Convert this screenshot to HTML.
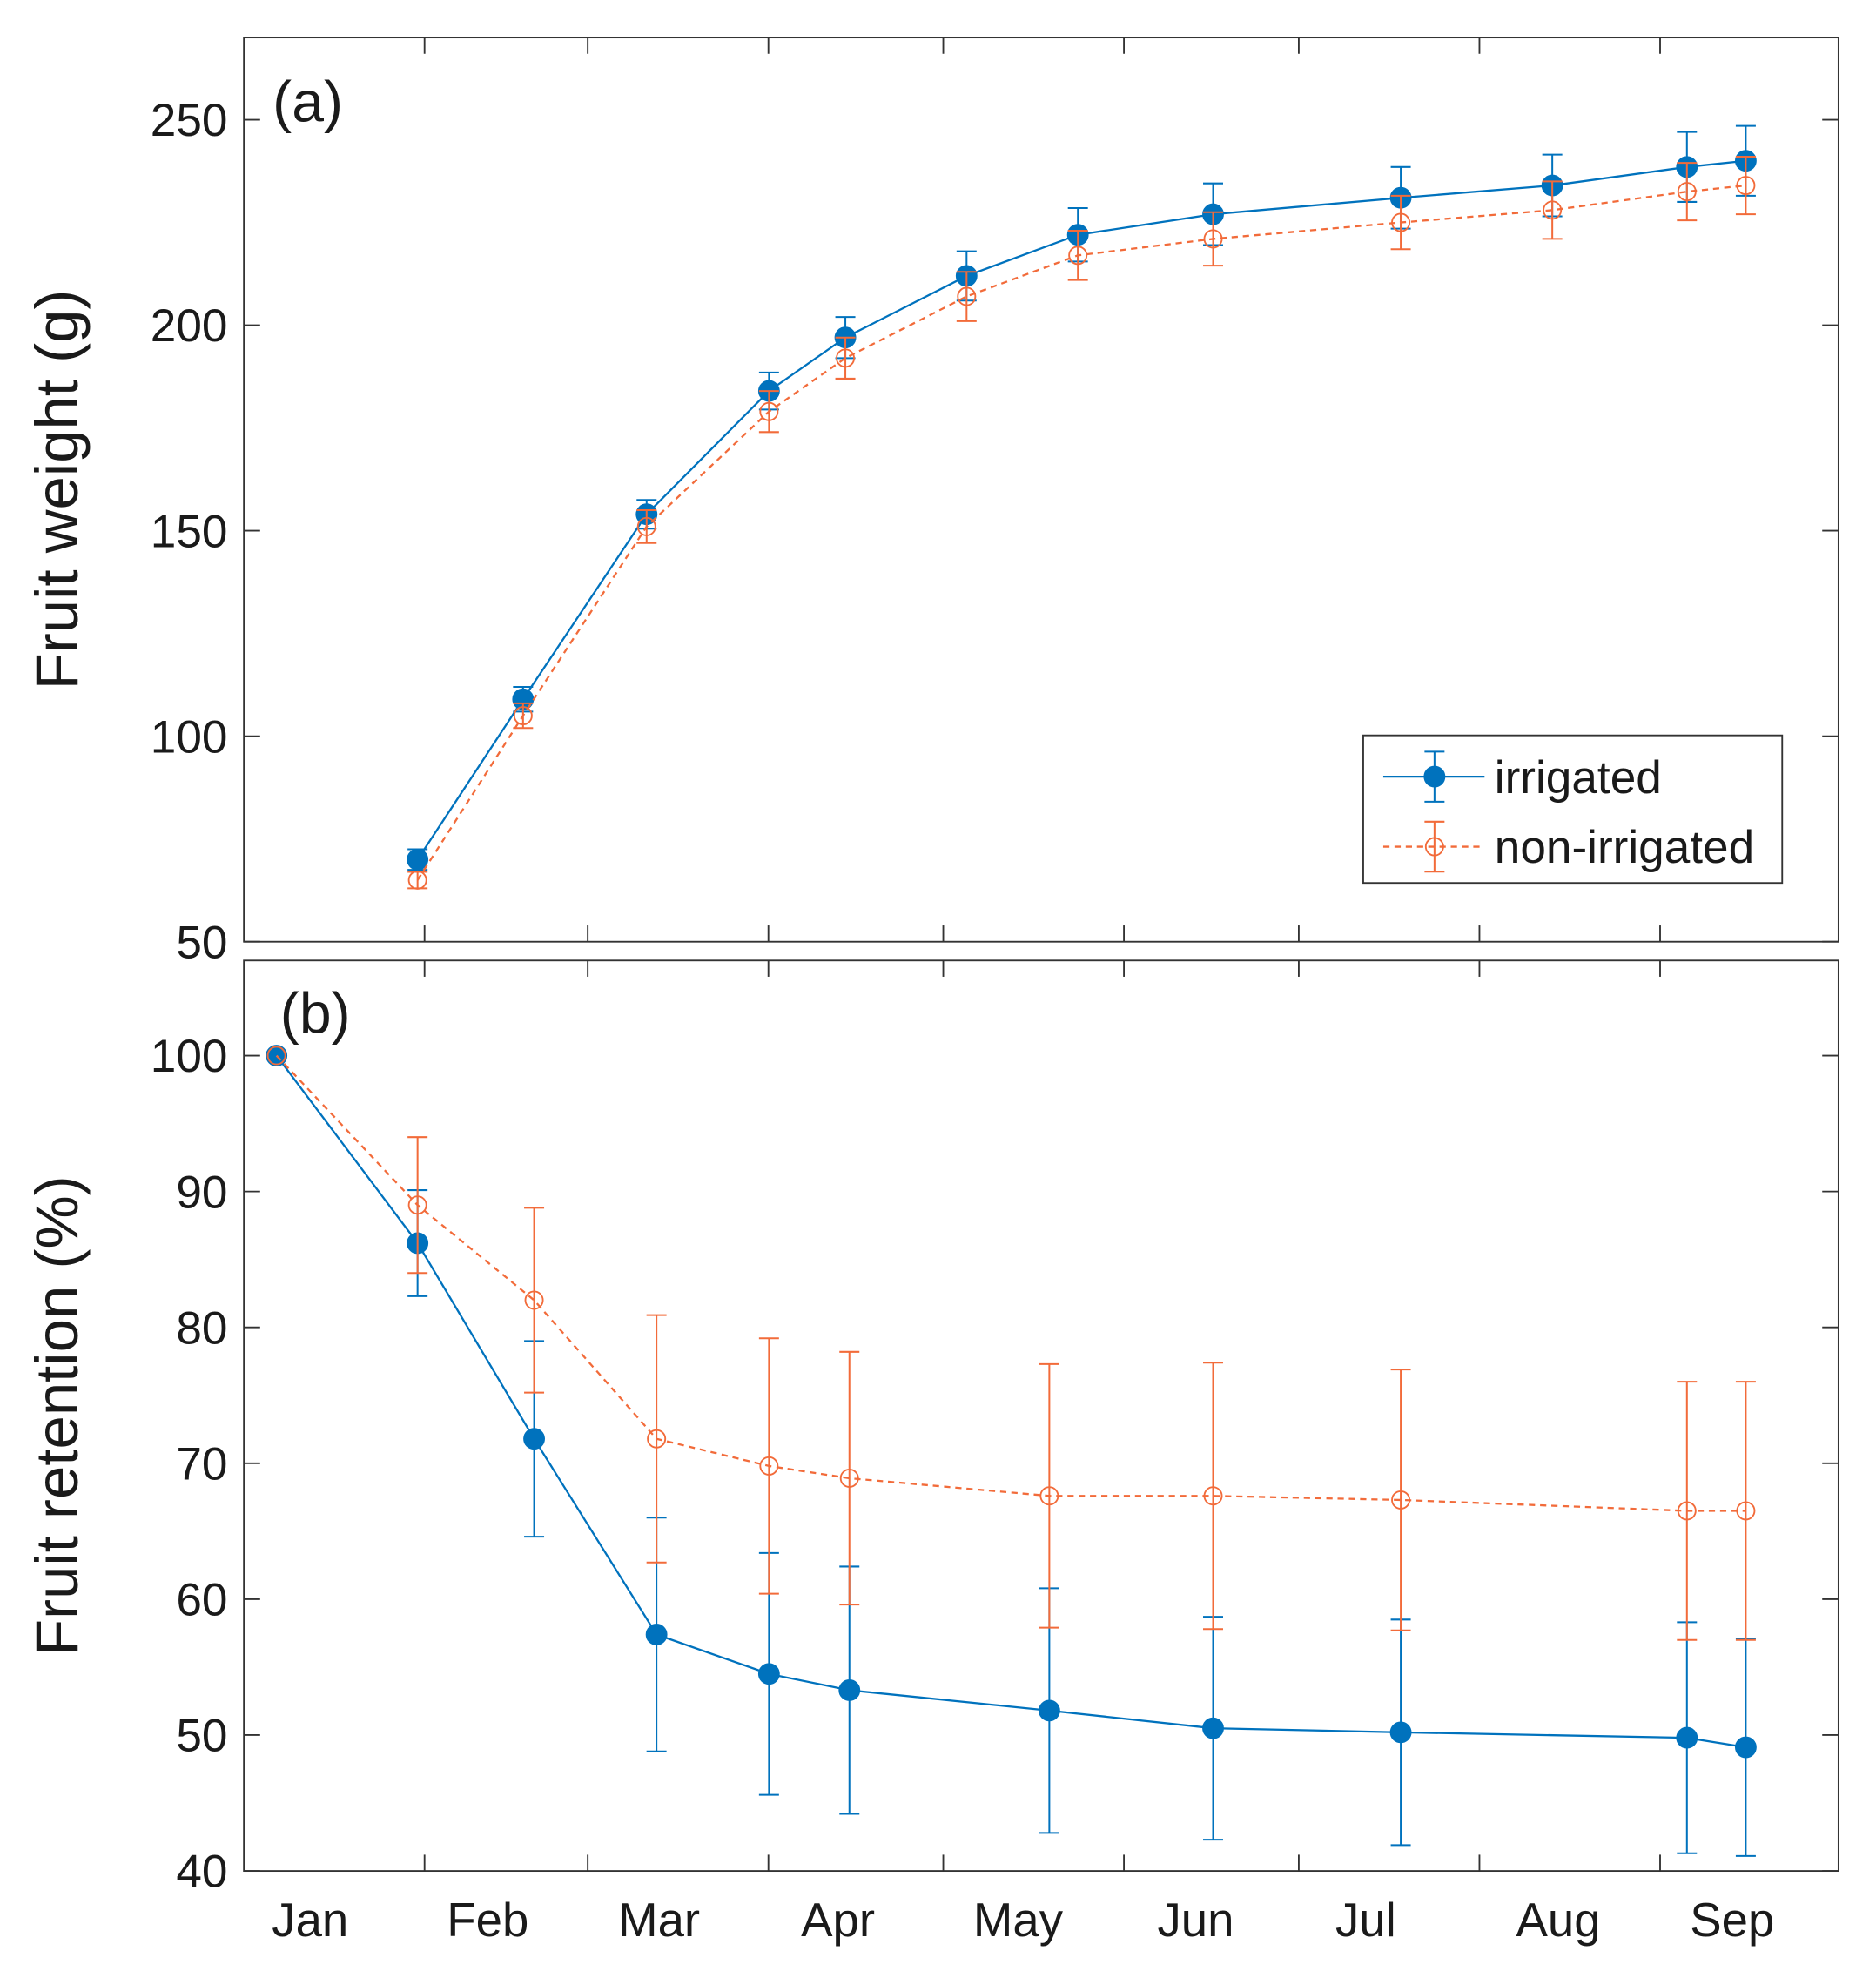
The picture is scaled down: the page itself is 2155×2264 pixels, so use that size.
<!DOCTYPE html>
<html><head><meta charset="utf-8"><style>
html,body{margin:0;padding:0;background:#fff}
svg{display:block}
text{font-family:"Liberation Sans",sans-serif;fill:#1a1a1a}
</style></head><body>
<svg id="chart" width="2155" height="2264" viewBox="0 0 1500 1576" preserveAspectRatio="none" xmlns="http://www.w3.org/2000/svg"></svg>
<script>
const months = ["Jan","Feb","Mar","Apr","May","Jun","Jul","Aug","Sep"];
const monthStartDays = [0,31,59,90,120,151,181,212,243];
const daysA = [29.8,47.9,69.1,90.1,103.2,124,143.1,166.3,198.5,224.5,247.6,257.7];
const weightIrr = [70,109,154,184,197,212,222,227,231,234,238.5,240];
const weightIrrErr = [2.5,3,3.5,4.5,5,6,6.5,7.5,7.5,7.5,8.5,8.5];
const weightNon = [65,105,151,179,192,207,217,221,225,228,232.5,234];
const weightNonErr = [2,3,4,5,5,6,6,6.5,6.5,7,7,7];
const daysB = [5.6,29.8,49.8,70.8,90.1,103.9,138.2,166.3,198.5,247.6,257.7];
const retIrr = [100,86.2,71.8,57.4,54.5,53.3,51.8,50.5,50.2,49.8,49.1];
const retIrrErr = [0,3.9,7.2,8.6,8.9,9.1,9,8.2,8.3,8.5,8.0];
const retNon = [100,89,82,71.8,69.8,68.9,67.6,67.6,67.3,66.5,66.5];
const retNonErr = [0,5,6.8,9.1,9.4,9.3,9.7,9.8,9.6,9.5,9.5];
const ticksA = [50,100,150,200,250];
const ticksB = [40,50,60,70,80,90,100];

const svg = document.getElementById('chart');
const NS = 'http://www.w3.org/2000/svg';
function mk(tag, attrs, parent){const e=document.createElementNS(NS,tag);for(const k in attrs)e.setAttribute(k,attrs[k]);(parent||svg).appendChild(e);return e;}
const BLUE='#0072BD', ORANGE='#F26B3A';
const L=195,R=1470;
const xs = d => L + d*4.66;

function panel(name, top, bottom, yMin, yMax, ticks, label, tag, days, s1, e1, s2, e2, legend){
  const ys = v => bottom - (v-yMin)/(yMax-yMin)*(bottom-top);
  const g = mk('g',{});
  
  
  mk('rect',{x:L,y:top,width:R-L,height:bottom-top,fill:'#fff',stroke:'#333','stroke-width':1.3},g);
  ticks.forEach(t=>{
    const y=ys(t);
    mk('line',{x1:L,x2:L+13,y1:y,y2:y,stroke:'#333','stroke-width':1.3},g);
    mk('line',{x1:R,x2:R-13,y1:y,y2:y,stroke:'#333','stroke-width':1.3},g);
    const tx=mk('text',{x:L-13,y:y+13,'text-anchor':'end','font-size':37},g);
    tx.textContent=t;
    
    
  });
  monthStartDays.slice(1).forEach(d=>{
    const x=xs(d);
    mk('line',{x1:x,x2:x,y1:top,y2:top+13,stroke:'#333','stroke-width':1.3},g);
    mk('line',{x1:x,x2:x,y1:bottom,y2:bottom-13,stroke:'#333','stroke-width':1.3},g);
  });
  const yl=mk('text',{transform:`translate(62,${(top+bottom)/2}) rotate(-90)`,'text-anchor':'middle','font-size':48},g);
  yl.textContent=label;
  
  
  const pl=mk('text',{x:tag[0],y:tag[1],'font-size':46},g);
  pl.textContent=tag[2];
  
  
  function series(vals, errs, color, filled, dashed, sname){
    const sg=mk('g',{},g);
    
    
    const pts=days.map((d,i)=>xs(d)+','+ys(vals[i])).join(' ');
    mk('polyline',{points:pts,fill:'none',stroke:color,'stroke-width':1.6,'stroke-dasharray':dashed?'5,4':'none'},sg);
    days.forEach((d,i)=>{
      const x=xs(d),y1=ys(vals[i]-errs[i]),y2=ys(vals[i]+errs[i]);
      if(errs[i]>0){
        mk('line',{x1:x,x2:x,y1:y1,y2:y2,stroke:color,'stroke-width':1.4},sg);
        mk('line',{x1:x-8,x2:x+8,y1:y1,y2:y1,stroke:color,'stroke-width':1.4},sg);
        mk('line',{x1:x-8,x2:x+8,y1:y2,y2:y2,stroke:color,'stroke-width':1.4},sg);
      }
      const c=mk('circle',{cx:x,cy:ys(vals[i]),r:filled?8:7,fill:filled?color:'none',stroke:color,'stroke-width':1.3},sg);
      
      
    });
  }
  series(s1,e1,BLUE,true,false,'series-irrigated');
  series(s2,e2,ORANGE,false,true,'series-non-irrigated');
  if(legend){
    const lg=mk('g',{},g);
    
    
    mk('rect',{x:1090,y:588,width:335,height:118,fill:'#fff',stroke:'#333','stroke-width':1.3},lg);
    [[621,BLUE,true,'irrigated'],[677,ORANGE,false,'non-irrigated']].forEach(([y,c,f,t])=>{
      mk('line',{x1:1106,x2:1187,y1:y,y2:y,stroke:c,'stroke-width':1.6,'stroke-dasharray':f?'none':'5,4'},lg);
      mk('line',{x1:1147,x2:1147,y1:y-20,y2:y+20,stroke:c,'stroke-width':1.4},lg);
      mk('line',{x1:1139,x2:1155,y1:y-20,y2:y-20,stroke:c,'stroke-width':1.4},lg);
      mk('line',{x1:1139,x2:1155,y1:y+20,y2:y+20,stroke:c,'stroke-width':1.4},lg);
      mk('circle',{cx:1147,cy:y,r:f?8:7,fill:f?c:'none',stroke:c,'stroke-width':1.3},lg);
      const tx=mk('text',{x:1195,y:y+13,'font-size':37},lg);
      tx.textContent=t;
      
      
    });
  }
}
panel('panel-a-fruit-weight',30,753,50,270,ticksA,'Fruit weight (g)',[218,97,'(a)'],daysA,weightIrr,weightIrrErr,weightNon,weightNonErr,true);
panel('panel-b-fruit-retention',768,1496,40,107,ticksB,'Fruit retention (%)',[224,826,'(b)'],daysB,retIrr,retIrrErr,retNon,retNonErr,false);
const labelX=[248,390,527,670,814,956,1092,1246,1385];
months.forEach((m,i)=>{
  const t=mk('text',{x:labelX[i],y:1548,'text-anchor':'middle','font-size':38});
  t.textContent=m;
  
  
});
</script>
</body></html>
